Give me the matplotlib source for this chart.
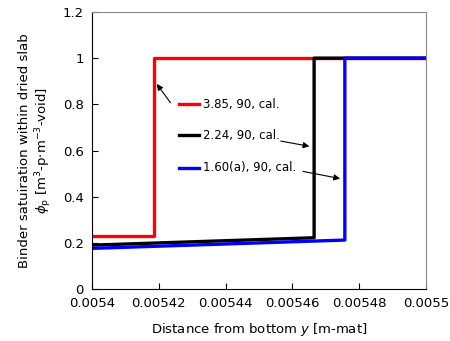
import matplotlib
matplotlib.use("Agg")
import matplotlib.pyplot as plt

plt.rcParams['font.family'] = ['DejaVu Sans']

# step profiles: x breakpoints and saturation values
red_x = [0.0054, 0.0054186, 0.0054186, 0.0055]
red_y = [0.231, 0.231, 1.0, 1.0]
black_x = [0.0054, 0.0054665, 0.0054665, 0.0055]
black_y = [0.190, 0.222, 1.0, 1.0]
blue_x = [0.0054, 0.0054757, 0.0054757, 0.0055]
blue_y = [0.176, 0.212, 1.0, 1.0]
labels = ['3.85, 90, cal.', '2.24, 90, cal.', '1.60(a), 90, cal.']

xticks = [0.0054, 0.00542, 0.00544, 0.00546, 0.00548, 0.0055]
xtick_labels = ['0.0054', '0.00542', '0.00544', '0.00546', '0.00548', '0.0055']
yticks = [0, 0.2, 0.4, 0.6, 0.8, 1.0, 1.2]
ytick_labels = ['0', '0.2', '0.4', '0.6', '0.8', '1', '1.2']

fig = plt.figure(figsize=(4.5, 3.41), dpi=100)
ax = fig.add_axes([92/450, 1 - 289/341, (426-92)/450, (289-12)/341])

ax.plot(red_x, red_y, color='#ff0000', lw=2.4)
ax.plot(black_x, black_y, color='black', lw=2.4)
ax.plot(blue_x, blue_y, color='#0000ff', lw=2.4)

ax.set_xlim(0.0054, 0.0055)
ax.set_ylim(0, 1.2)
ax.set_xticks(xticks)
ax.set_xticklabels(xtick_labels)
ax.set_yticks(yticks)
ax.set_yticklabels(ytick_labels)
ax.tick_params(direction='in', length=4, width=0.8, labelsize=9.5, pad=6)
for s in ['top', 'right']:
    ax.spines[s].set_color('#888888')

ax.set_xlabel('Distance from bottom $y$ [m-mat]', fontsize=9.5, labelpad=8)
ax.set_ylabel('Binder satuiration within dried slab\n'
              r'$\phi_\mathrm{p}$ [m$^3$-p$\cdot$m$^{-3}$-void]',
              fontsize=9.5, labelpad=6)

# legend drawn as short lines and labels
leg_x = [0.0054260, 0.0054321]
leg_y = [0.80, 0.665, 0.526]
for yy, c, lab in zip(leg_y, ['#ff0000', 'black', '#0000ff'], labels):
    ax.plot(leg_x, [yy, yy], color=c, lw=2.4)
    ax.text(0.0054333, yy, lab, fontsize=8.5, va='center', ha='left')

arr = dict(arrowstyle='-|>', color='black', lw=0.8, mutation_scale=9)
ax.annotate('', xy=(0.0054189, 0.898), xytext=(0.0054240, 0.797), arrowprops=arr)
ax.annotate('', xy=(0.0054659, 0.616), xytext=(0.0054557, 0.643), arrowprops=arr)
ax.annotate('', xy=(0.0054751, 0.476), xytext=(0.0054623, 0.512), arrowprops=arr)

fig.savefig('out.png', dpi=100)
